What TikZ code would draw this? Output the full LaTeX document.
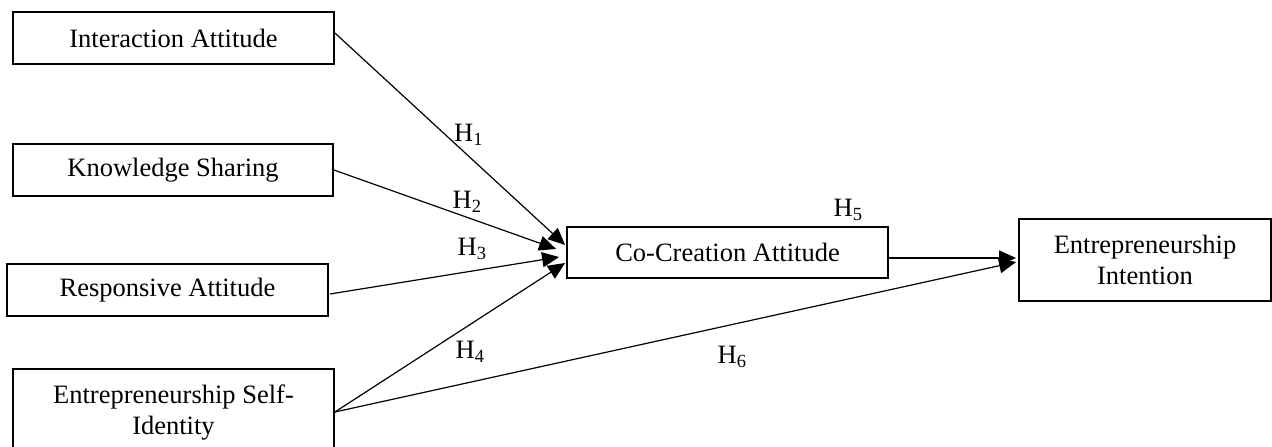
\documentclass[tikz,border=0pt]{standalone}
\usepackage{fontspec}
\setmainfont{Liberation Serif}
\usetikzlibrary{arrows.meta,calc}
\begin{document}
\begin{tikzpicture}[x=1pt,y=-1pt,
  construct/.style={draw,line width=1.8pt,rectangle,inner sep=0pt,align=center,
    font=\fontsize{26.5}{31}\selectfont},
  link/.style={line width=1.2pt,-{Triangle[length=17pt,width=15pt]}},
  hyp/.style={anchor=base west,inner sep=0pt,font=\fontsize{26.5}{31}\selectfont}]
\useasboundingbox (0,0) rectangle (1272,447);
\clip (0,0) rectangle (1272,447);

% constructs
\node[construct,minimum width=321pt,minimum height=52pt] (ia) at (173.5,38) {Interaction Attitude};
\node[construct,minimum width=320pt,minimum height=52pt] (ks) at (173,170) {Knowledge Sharing};
\node[construct,minimum width=321pt,minimum height=52pt] (ra) at (167.5,290) {Responsive Attitude};
\node[construct,minimum width=321pt,minimum height=88pt] (esi) at (173.5,413) {Entrepreneurship Self-\\Identity};
\node[construct,minimum width=321pt,minimum height=51pt] (cc) at (727.5,252.5) {Co-Creation Attitude};
\node[construct,minimum width=252pt,minimum height=82pt] (ei) at (1145,260) {Entrepreneurship\\Intention};

% hypothesised paths
\draw[link] ($(ia.east)+(0,-5)$) -- ($(cc.west)+(-1,-7.5)$);
\draw[link] (ks.east) -- ($(cc.west)+(-10,-3.5)$);
\draw[link] ($(ra.east)+(1,4)$) -- ($(cc.west)+(-7,4.5)$);
\draw[link] ($(esi.east)+(0,-1)$) -- ($(cc.west)+(-1,10.5)$);
\draw[link] ($(esi.east)+(0,-1)$) -- ($(ei.west)+(-2,2)$);
\draw[link] ($(cc.east)+(0,5.5)$) -- ($(ei.west)+(-2,-2)$);

% path labels
\node[hyp] (h1) at (454,141.5) {H\textsubscript{1}};
\node[hyp] (h2) at (452.5,208.5) {H\textsubscript{2}};
\node[hyp] (h3) at (457.5,255.5) {H\textsubscript{3}};
\node[hyp] (h4) at (455.5,358.5) {H\textsubscript{4}};
\node[hyp] (h5) at (833.5,216.5) {H\textsubscript{5}};
\node[hyp] (h6) at (717.5,363.5) {H\textsubscript{6}};
\end{tikzpicture}
\end{document}
